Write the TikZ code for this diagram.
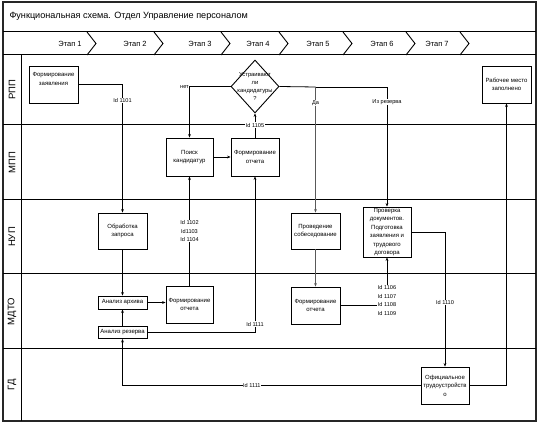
\documentclass[tikz,border=0pt]{standalone}
\usepackage{fontspec}
\setmainfont{Liberation Sans}
\usetikzlibrary{shapes.geometric,arrows.meta}
\begin{document}
\begin{tikzpicture}[x=1pt,y=-1pt,
  frame/.style={draw=black!85, line width=1.1pt},
  lane/.style={draw=black, line width=1pt},
  chev/.style={draw=black, line width=0.9pt},
  box/.style={draw=black, line width=0.9pt, fill=white, align=center, inner sep=0pt, font=\fontsize{6}{8.4}\selectfont},
  lbl/.style={fill=white, inner sep=0.6pt, align=center, font=\fontsize{5.6}{8.5}\selectfont},
  conn/.style={draw=black, line width=0.8pt},
  arr/.style={conn, -{Stealth[length=3.5pt,width=2.8pt]}},
  garr/.style={arr, draw=black!65, line width=1.2pt},
  lanelbl/.style={rotate=90, font=\fontsize{9.5}{10}\selectfont},
  stage/.style={font=\fontsize{7.5}{9}\selectfont},
]
\path[use as bounding box, fill=white] (0,0) rectangle (542,425);

% frame and lanes
\draw[frame] (3,2) rectangle (536,421);
\draw[lane] (3,32) -- (536,32);
\draw[lane] (3,55) -- (536,55);
\draw[lane] (21,55) -- (21,421);
\foreach \yy in {125,200,274,349} \draw[lane] (3,\yy) -- (536,\yy);

% title
\node[anchor=west, font=\fontsize{9.1}{10}\selectfont] (title) at (6,16.5) {Функциональная схема. Отдел Управление персоналом};

% stages
\foreach \cx/\tip/\lab [count=\i] in {70/87/Этап 1, 135/154/Этап 2, 200/221/Этап 3, 258/279/Этап 4, 318/343/Этап 5, 382/406/Этап 6, 437/460/Этап 7} {
  \node[stage] (st\i) at (\cx,43.5) {\lab};
  \draw[chev] (\tip,32) -- (\tip+9,43.5) -- (\tip,55);
}

% lane labels
\node[lanelbl] (l1) at (12,90) {РПП};
\node[lanelbl] (l2) at (12,162.5) {МПП};
\node[lanelbl] (l3) at (12,237) {НУП};
\node[lanelbl] (l4) at (12,311.5) {МДТО};
\node[lanelbl] (l5) at (12,385) {ГД};

% boxes
\node[box, minimum width=49pt, minimum height=37pt] (zayav) at (53.5,84.5) {Формирование\\заявления\\[3pt]};
\node[box, minimum width=49pt, minimum height=37pt] (rabm) at (506.5,84.5) {Рабочее место\\заполнено};
\node[box, minimum width=47pt, minimum height=38pt] (poisk) at (189.5,157) {Поиск\\кандидатур};
\node[box, minimum width=48pt, minimum height=38pt] (formMPP) at (255,157) {Формирование\\отчета};
\node[box, minimum width=49pt, minimum height=36pt] (obrab) at (122.5,231) {Обработка\\запроса};
\node[box, minimum width=49pt, minimum height=36pt] (provS) at (315.5,231) {Проведение\\собеседование};
\node[box, minimum width=48pt, minimum height=50pt] (prov) at (387,232) {Проверка\\документов.\\Подготовка\\заявления и\\трудового\\договора};
\node[box, minimum width=49pt, minimum height=13pt] (arhiv) at (122.5,302.5) {Анализ архива};
\node[box, minimum width=47pt, minimum height=37pt] (formM3) at (189.5,304.5) {Формирование\\отчета};
\node[box, minimum width=49pt, minimum height=37pt] (formM5) at (315.5,305.5) {Формирование\\отчета};
\node[box, minimum width=49pt, minimum height=12pt] (rezerv) at (122.5,332.5) {Анализ резерва};
\node[box, minimum width=48pt, minimum height=37pt] (ofic) at (445,385.5) {Официальное\\трудоустройств\\о};

% decision
\node[diamond, draw=black, line width=0.9pt, fill=white, minimum width=48pt, minimum height=53pt, inner sep=0pt] (dec) at (255,86.5) {};
\node[align=center, inner sep=0pt, font=\fontsize{5.8}{8}\selectfont] (dectext) at (255,86.5) {Устраивают\\ли\\кандидатуры\\?};

\coordinate (da) at (315.5,87);

% connectors
\draw[arr] (zayav.east) -| (obrab.north) node[lbl, pos=0.562] {Id 1101};
\draw[arr] (obrab.south) -- (arhiv.north);
\draw[arr] (rezerv.north) -- (arhiv.south);
\draw[arr] (arhiv.east) -- (arhiv.east -| formM3.west);
\draw[arr] (formM3.north) -- (poisk.south) node[lbl, pos=0.5] {Id 1102\\Id1103\\Id 1104};
\draw[arr] (poisk.east) -- (formMPP.west);
\draw[arr] (formMPP.north) -- (dec.south) node[lbl, pos=0.52] {Id 1105};
\draw[arr] (dec.west) -| (poisk.north);
\node[anchor=east, inner sep=0.5pt, font=\fontsize{5.6}{6}\selectfont] (net) at (189.5,87) {нет};
\draw[conn] (dec.east) -- (da);
\draw[garr] (da) -- (provS.north) node[lbl, pos=0.127] {Да};
\draw[arr] (da) -| (prov.north) node[lbl, pos=0.5625] {Из резерва};
\draw[garr] (provS.south) -- (formM5.north);
\draw[arr] (formM5.east) -| (prov.south) node[lbl, pos=0.55] {Id 1106\\Id 1107\\Id 1108\\Id 1109};
\draw[arr] (prov.east) -| (ofic.north) node[lbl, pos=0.763] {Id 1110};
\draw[arr] (ofic.east) -| (rabm.south);
\draw[arr] (ofic.west) -| (rezerv.south) node[lbl, pos=0.283] {Id 1111};
\draw[arr] (rezerv.east) -| (formMPP.south) node[lbl, pos=0.527] {Id 1111};

\end{tikzpicture}
\end{document}
